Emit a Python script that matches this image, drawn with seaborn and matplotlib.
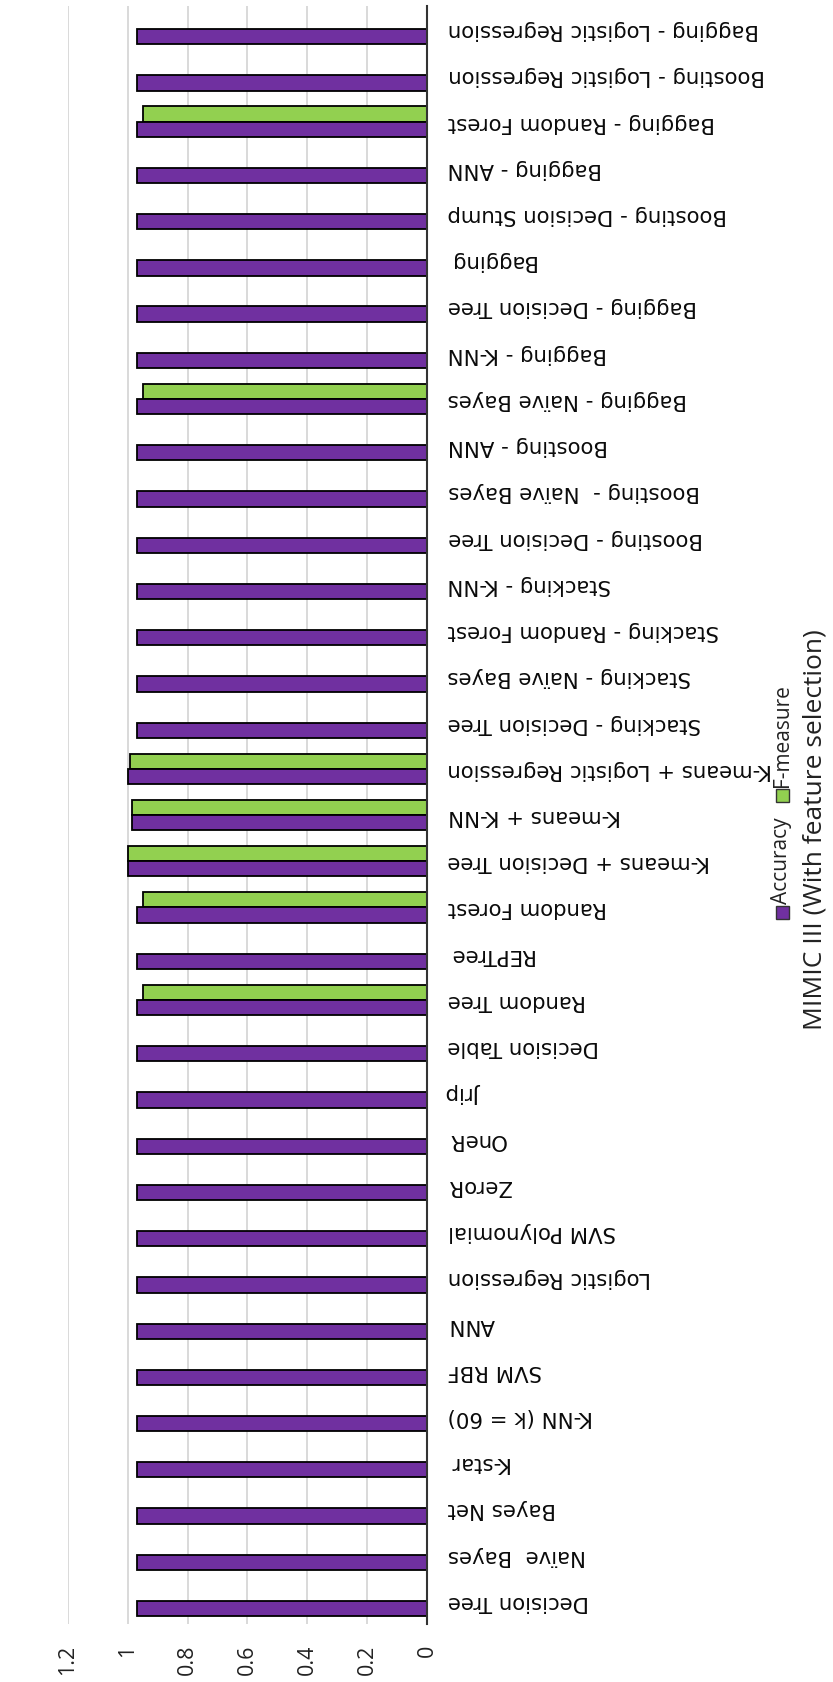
import numpy as np
import pandas as pd
import matplotlib
matplotlib.use("Agg")
import matplotlib.pyplot as plt
import seaborn as sns
from matplotlib.patches import Rectangle

# ---------------- data (bottom to top as drawn) ----------------
categories = [
    "Decision Tree", "Naïve  Bayes", "Bayes Net", "K-star", "K-NN (k = 60)",
    "SVM RBF", "ANN", "Logistic Regression", "SVM Polynomial", "ZeroR",
    "OneR", "Jrip", "Decision Table", "Random Tree", "REPTree",
    "Random Forest", "K-means + Decision Tree", "K-means + K-NN",
    "K-means + Logistic Regression", "Stacking - Decision Tree",
    "Stacking - Naïve Bayes", "Stacking - Random Forest", "Stacking - K-NN",
    "Boosting - Decision Tree", "Boosting -  Naïve Bayes", "Boosting - ANN",
    "Bagging - Naïve Bayes", "Bagging - K-NN", "Bagging - Decision Tree",
    "Bagging", "Boosting - Decision Stump", "Bagging - ANN",
    "Bagging - Random Forest", "Boosting - Logistic Regression",
    "Bagging - Logistic Regression",
]
accuracy = [
    0.97, 0.97, 0.97, 0.97, 0.97,
    0.97, 0.97, 0.97, 0.97, 0.97,
    0.97, 0.97, 0.97, 0.97, 0.97,
    0.97, 1.00, 0.986,
    1.00, 0.97,
    0.97, 0.97, 0.97,
    0.97, 0.97, 0.97,
    0.97, 0.97, 0.97,
    0.97, 0.97, 0.97,
    0.97, 0.97,
    0.97,
]
fmeasure = [
    np.nan, np.nan, np.nan, np.nan, np.nan,
    np.nan, np.nan, np.nan, np.nan, np.nan,
    np.nan, np.nan, np.nan, 0.95, np.nan,
    0.95, 1.00, 0.986,
    0.993, np.nan,
    np.nan, np.nan, np.nan,
    np.nan, np.nan, np.nan,
    0.95, np.nan, np.nan,
    np.nan, np.nan, np.nan,
    0.95, np.nan,
    np.nan,
]
x_ticks = [0, 0.2, 0.4, 0.6, 0.8, 1.0, 1.2]
x_tick_labels = ["0", "0.2", "0.4", "0.6", "0.8", "1", "1.2"]
series_names = ["Accuracy", "F-measure"]
title_text = "MIMIC III (With feature selection)"
series_colors = {"Accuracy": "#7030A0", "F-measure": "#92D050"}

# ---------------- build long table ----------------
df = pd.DataFrame({
    "Model": categories * 2,
    "Metric": [series_names[0]] * len(categories) + [series_names[1]] * len(categories),
    "Score": list(accuracy) + list(fmeasure),
}).dropna()

sns.set_theme(style="white")
plt.rcParams["font.family"] = ["DejaVu Sans"]

W, H = 833, 1683
fig = plt.figure(figsize=(W / 100, H / 100), dpi=100)
fig.patch.set_facecolor("white")

x0, x1 = 68, 427
y0, y1 = 7, 1625
ax = fig.add_axes([x0 / W, 1 - y1 / H, (x1 - x0) / W, (y1 - y0) / H])

sns.barplot(
    data=df, y="Model", x="Score", hue="Metric",
    order=categories[::-1], hue_order=["F-measure", "Accuracy"],
    palette=series_colors, orient="h", width=0.66, gap=0,
    saturation=1, edgecolor="black", linewidth=1.3, ax=ax, legend=False,
)

ax.set_xlim(1.2, 0)
ax.set_xlabel("")
ax.set_ylabel("")
ax.set_xticks(x_ticks)
ax.set_xticklabels(x_tick_labels, rotation=90, fontsize=15.5,
                   family=["Open Sans", "DejaVu Sans"], color="#222222")
ax.tick_params(axis="x", length=0, pad=14)

ax.grid(axis="x", color="#D9D9D9", linewidth=1.4)
ax.grid(axis="y", visible=False)
ax.set_axisbelow(True)

ax.yaxis.tick_right()
ax.tick_params(axis="y", length=0, pad=15, labelsize=15.3, labelcolor="#0a0a0a")
for lab in ax.get_yticklabels():
    lab.set_rotation(180)
    lab.set_ha("left")
    lab.set_va("center")

for s in ["left", "top", "bottom"]:
    ax.spines[s].set_visible(False)
ax.spines["right"].set_visible(True)
ax.spines["right"].set_color("#333333")
ax.spines["right"].set_linewidth(1.5)

# ---------------- title (rotated) ----------------
fig.text(815 / W, 1 - 830 / H, title_text, rotation=90, ha="center", va="center",
         fontsize=19, family=["Open Sans", "DejaVu Sans"], color="#222222")

# ---------------- legend (rotated, manual) ----------------
renderer = fig.canvas.get_renderer()
lx = 782
sq = 13
cur = 920  # pixel y (from top) of the bottom of the first legend square
for name in series_names:
    fig.add_artist(Rectangle(((lx - sq / 2) / W, 1 - cur / H), sq / W, sq / H,
                             transform=fig.transFigure, facecolor=series_colors[name],
                             edgecolor="#333333", linewidth=1.0))
    cur -= sq + 3
    t = fig.text(lx / W, 1 - cur / H, name, rotation=90, ha="center", va="bottom",
                 fontsize=15, family=["Open Sans", "DejaVu Sans"], color="#222222")
    ext = t.get_window_extent(renderer)
    cur -= ext.height + 14

fig.savefig("out.png", dpi=100, facecolor="white")
